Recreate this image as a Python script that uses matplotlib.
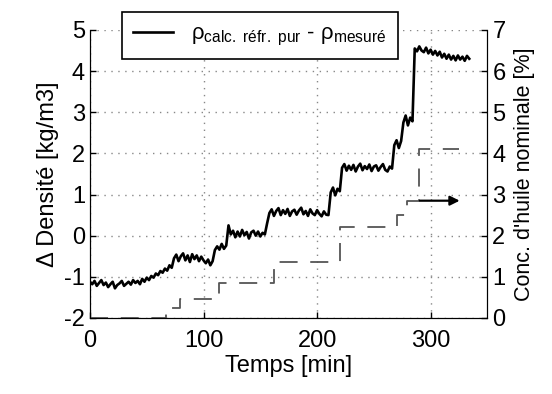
import numpy as np
import matplotlib
matplotlib.use("Agg")
import matplotlib.pyplot as plt

plt.rcParams['font.family'] = ['Liberation Sans', 'DejaVu Sans']
plt.rcParams['mathtext.fontset'] = 'custom'
plt.rcParams['mathtext.rm'] = 'Liberation Sans'
plt.rcParams['mathtext.it'] = 'Liberation Sans:italic'
plt.rcParams['axes.unicode_minus'] = False

# sampling times of the density difference (every 2 min)
time_min = np.arange(0, 336, 2)

# density difference [kg/m3]
delta_rho = [
    -1.12, -1.18, -1.10, -1.22, -1.15, -1.08, -1.20, -1.14, -1.25, -1.18,
    -1.12, -1.28, -1.20, -1.16, -1.10, -1.22, -1.17, -1.12, -1.19, -1.08,
    -1.15, -1.10, -1.18, -1.05, -1.12, -1.02,
    -1.08, -0.98, -1.02, -0.92, -0.96, -0.86, -0.90,
    -0.80, -0.85, -0.72, -0.78,
    -0.55, -0.46, -0.62, -0.50, -0.43, -0.60, -0.48, -0.64, -0.45, -0.57,
    -0.48, -0.62, -0.51, -0.60, -0.67, -0.58, -0.72,
    -0.62,
    -0.35, -0.26, -0.34, -0.20, -0.32, -0.24,
    0.25, 0.03, 0.12, -0.04, 0.10, -0.02, 0.14, 0.01, 0.09, -0.07,
    0.08, 0.12, 0.00, 0.10, -0.02, 0.07, 0.03,
    0.30,
    0.55, 0.64, 0.48, 0.60, 0.67, 0.50, 0.62, 0.53, 0.65, 0.48,
    0.59, 0.63, 0.51, 0.61, 0.68, 0.52, 0.60, 0.48, 0.64, 0.54,
    0.50, 0.62, 0.53, 0.47, 0.59, 0.51, 0.50,
    1.05, 1.17, 0.98, 1.14, 1.08,
    1.65, 1.74, 1.58, 1.70, 1.60, 1.72, 1.56, 1.68, 1.75, 1.59,
    1.69, 1.62, 1.73, 1.57, 1.68, 1.71, 1.58, 1.67, 1.74, 1.60,
    1.56, 1.68, 1.63,
    2.20, 2.32, 2.13, 2.30,
    2.75, 2.92, 2.68, 2.87, 2.78,
    4.55, 4.48, 4.60, 4.50, 4.46, 4.57, 4.43, 4.52, 4.40, 4.49,
    4.38, 4.47, 4.33, 4.42, 4.30, 4.40, 4.28, 4.37, 4.26, 4.38,
    4.28, 4.35, 4.25, 4.37, 4.30,
]

# nominal oil concentration steps [%]
conc_time = [0, 67, 79, 114, 162, 220, 270, 279, 290, 325]
conc_nominal = [0, 0.25, 0.45, 0.85, 1.35, 2.2, 2.5, 2.85, 4.1, 4.1]

x_ticks = [0, 100, 200, 300]
left_ticks = list(range(-2, 6))
right_ticks = list(range(0, 8))

fig = plt.figure(figsize=(5.52, 3.94), dpi=100)
ax = fig.add_axes([0.163, 0.193, 0.72, 0.731])

ax.plot(time_min, delta_rho, color='k', lw=1.9,
        label=r'ρ$_{\mathrm{calc.\ réfr.\ pur}}$ - ρ$_{\mathrm{mesuré}}$')
ax.set_xlim(0, 350)
ax.set_ylim(-2, 5)
ax.set_xticks(x_ticks)
ax.set_yticks(left_ticks)
ax.grid(True, linestyle=(0, (1, 4)), color='#888888', lw=1)
ax.spines['top'].set_visible(False)
ax.tick_params(labelsize=17, direction='in', length=4, width=1)
ax.tick_params(axis='x', pad=9)
ax.set_xlabel('Temps [min]', fontsize=17, labelpad=2)
ax.set_ylabel('Δ Densité [kg/m3]', fontsize=17, labelpad=4)

ax2 = ax.twinx()
ax2.plot(conc_time, conc_nominal, drawstyle='steps-post', color='#555555',
         lw=1.3, linestyle=(0, (10, 7)))
ax2.annotate('', xy=(328, 2.85), xytext=(288, 2.85),
             arrowprops=dict(arrowstyle='-|>', color='k', lw=1.6,
                             mutation_scale=14))
ax2.set_ylim(0, 7)
ax2.set_yticks(right_ticks)
ax2.spines['top'].set_visible(False)
ax2.tick_params(labelsize=17, direction='in', length=4, width=1)
ax2.set_ylabel("Conc. d'huile nominale [%]", fontsize=15.5, labelpad=6)

leg = ax.legend(loc='lower left', bbox_to_anchor=(0.052, 0.86, 0.75, 0.16),
                mode='expand', fontsize=16, fancybox=False, framealpha=1,
                edgecolor='k', borderpad=0.5, handlelength=1.8)
leg.get_frame().set_linewidth(1.2)

fig.savefig('out.png', dpi=100)
